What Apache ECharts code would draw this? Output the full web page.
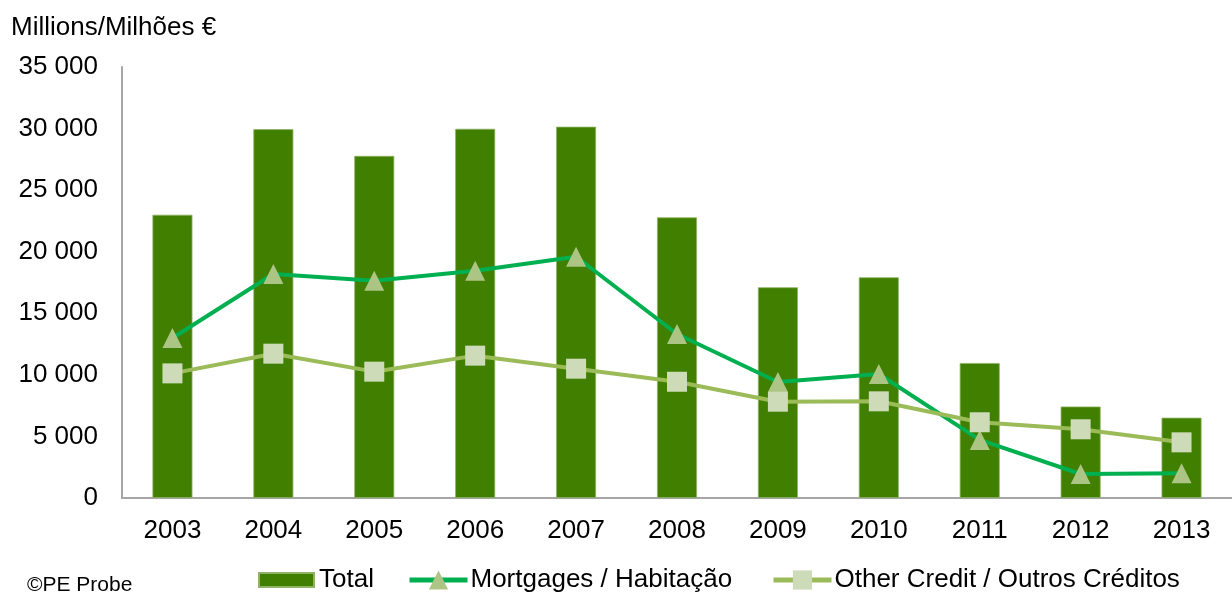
<!DOCTYPE html>
<html>
<head>
<meta charset="utf-8">
<script src="https://cdn.jsdelivr.net/npm/echarts@6/dist/echarts.min.js"></script>
<style>
  html, body { margin: 0; padding: 0; background: #fff; }
  #chart { width: 1232px; height: 592px; }
</style>
</head>
<body>
<div id="chart"></div>
<script>
// anos
const years = ['2003', '2004', '2005', '2006', '2007', '2008', '2009', '2010', '2011', '2012', '2013'];
// milhões de euros
const total = [23000, 29950, 27780, 29980, 30150, 22790, 17110, 17920, 10960, 7430, 6520];
const mortgages = [12990, 18190, 17640, 18460, 19590, 13320, 9420, 10070, 4720, 1950, 2000];
const otherCredit = [10120, 11720, 10260, 11560, 10500, 9440, 7820, 7850, 6150, 5580, 4520];

const font = 'Liberation Sans, Arial, sans-serif';
const chart = echarts.init(document.getElementById('chart'));

// uma legenda por item, para acertar posições
function legendItem(name, left, top, w, h, extra) {
  return Object.assign({
    data: [name],
    left: left, top: top, padding: 0,
    itemWidth: w, itemHeight: h,
    textStyle: { fontSize: 26, color: '#000', padding: [0, 0, 0, -2] }
  }, extra || {});
}

chart.setOption({
  animation: false,
  textStyle: { fontFamily: font, color: '#000' },
  graphic: [
    {
      type: 'text', left: 11, top: 15,
      style: { text: 'Millions/Milhões €', font: '26px ' + font, fill: '#000' }
    },
    {
      type: 'text', left: 27, top: 575,
      style: { text: '©PE Probe', font: '21px ' + font, fill: '#000' }
    }
  ],
  grid: { left: 122, right: -9, top: 67, bottom: 94, containLabel: false },
  legend: [
    legendItem('Total', 258, 567, 55, 14, { icon: 'rect', textStyle: { fontSize: 26, color: '#000' } }),
    legendItem('Mortgages / Habitação', 407, 567, 58, 24, { lineStyle: { width: 5 } }),
    legendItem('Other Credit / Outros Créditos', 771, 567, 58, 24, { lineStyle: { width: 5 } })
  ],
  xAxis: {
    type: 'category',
    data: years,
    axisLine: { lineStyle: { color: '#a6a6a6', width: 2 } },
    axisTick: { show: false },
    axisLabel: { fontSize: 26, color: '#000', margin: 20 }
  },
  yAxis: {
    type: 'value',
    min: 0, max: 35000, interval: 5000,
    axisLine: { show: true, lineStyle: { color: '#a6a6a6', width: 2 } },
    axisTick: { show: false },
    splitLine: { show: false },
    axisLabel: {
      fontSize: 26, color: '#000', margin: 24,
      formatter: v => String(v).replace(/\B(?=(\d{3})+(?!\d))/g, ' ')
    }
  },
  series: [
    {
      name: 'Total',
      type: 'bar',
      data: total,
      barWidth: 40,
      itemStyle: { color: '#417f00', borderColor: '#8fb363', borderWidth: 0.8 }
    },
    {
      name: 'Mortgages / Habitação',
      type: 'line',
      data: mortgages,
      symbol: 'triangle',
      symbolSize: 20,
      lineStyle: { color: '#00b050', width: 4 },
      itemStyle: { color: '#adc584' }
    },
    {
      name: 'Other Credit / Outros Créditos',
      type: 'line',
      data: otherCredit,
      symbol: 'rect',
      symbolSize: 20,
      lineStyle: { color: '#9bbb59', width: 4 },
      itemStyle: { color: '#cddbb8' }
    }
  ]
});
</script>
</body>
</html>
